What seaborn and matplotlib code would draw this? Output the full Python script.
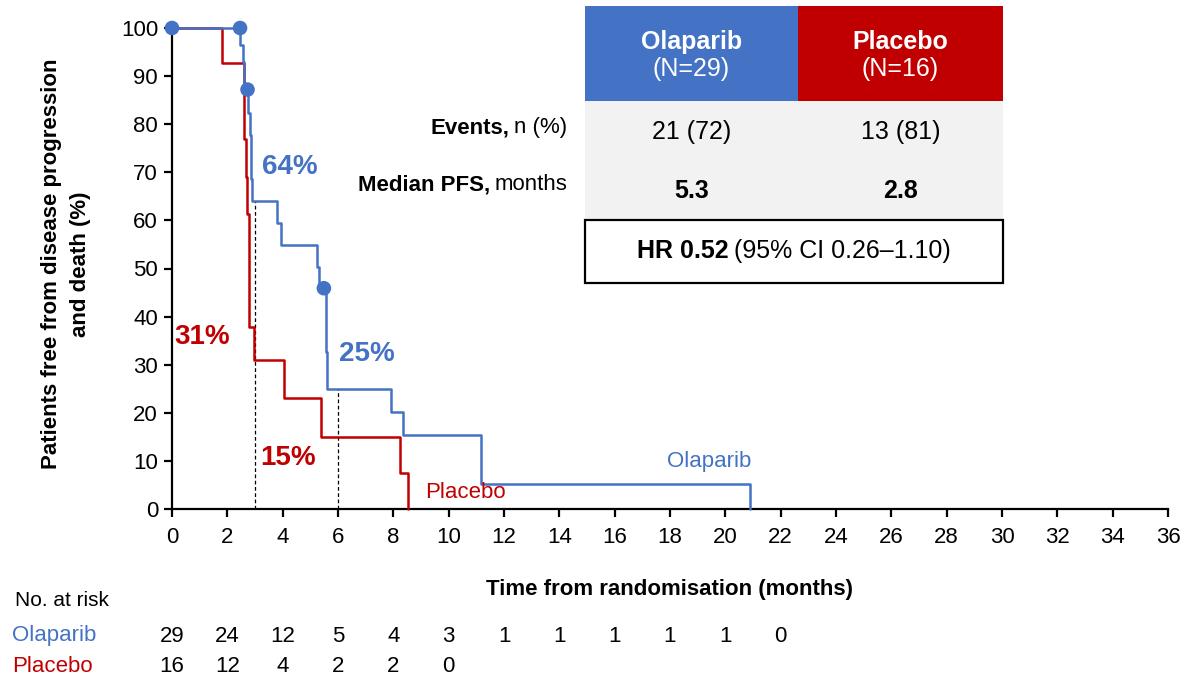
import matplotlib
matplotlib.use("Agg")
import matplotlib.pyplot as plt
import numpy as np
import pandas as pd
import seaborn as sns
from matplotlib import font_manager
from matplotlib.patches import Rectangle
from matplotlib.transforms import blended_transform_factory

# ---------------------------------------------------------------- data
arms = ["Olaparib", "Placebo"]

olaparib_time = [0, 2.46, 2.58, 2.62, 2.76, 2.82, 2.85, 2.90, 3.80, 3.93,
                 5.23, 5.33, 5.56, 5.62, 7.90, 8.36, 11.17, 20.89]
olaparib_pfs = [100, 96.5, 93.0, 87.2, 82.3, 77.7, 68.7, 64.0, 59.4, 54.9,
                50.4, 45.9, 32.7, 25.0, 20.2, 15.4, 5.2, 0]

placebo_time = [0, 1.82, 2.60, 2.66, 2.72, 2.78, 2.96, 4.05, 5.38, 8.24, 8.54]
placebo_pfs = [100, 92.7, 77.0, 69.0, 61.3, 37.9, 31.0, 23.0, 15.0, 7.5, 0]

olaparib_censor_time = [0, 2.46, 2.73, 5.49]
olaparib_censor_pfs = [100, 100, 87.2, 45.9]

landmark_months = [3, 6]
olaparib_landmark = [64, 25]
placebo_landmark = [31, 15]

x_ticks = list(range(0, 37, 2))
y_ticks = list(range(0, 101, 10))

risk_months = [0, 2, 4, 6, 8, 10, 12, 14, 16, 18, 20, 22]
olaparib_at_risk = [29, 24, 12, 5, 4, 3, 1, 1, 1, 1, 1, 0]
placebo_at_risk = [16, 12, 4, 2, 2, 0]

n_patients = ["(N=29)", "(N=16)"]
events = ["21 (72)", "13 (81)"]
median_pfs = ["5.3", "2.8"]
hr_bold = "HR 0.52"
hr_rest = "(95% CI 0.26\u20131.10)"

BLUE = "#4472C4"
RED = "#C00000"
GREY = "#F2F2F2"

# ---------------------------------------------------------------- style
sns.set_theme(style="ticks")
available = {f.name for f in font_manager.fontManager.ttflist}
FONT = "Liberation Sans Narrow" if "Liberation Sans Narrow" in available else "Liberation Sans"
plt.rcParams["font.family"] = [FONT, "DejaVu Sans"]
plt.rcParams["text.color"] = "black"

W, H = 1184, 680
fig = plt.figure(figsize=(W / 100, H / 100), dpi=100)
fig.patch.set_facecolor("white")


def fx(x):
    return x / W


def fy(y):
    return 1 - y / H


ax_l, ax_r, ax_t, ax_b = 172, 1168, 28, 509
ax = fig.add_axes([fx(ax_l), fy(ax_b), (ax_r - ax_l) / W, (ax_b - ax_t) / H])
ax.set_facecolor("white")

# ---------------------------------------------------------------- curves
df = pd.concat([
    pd.DataFrame({"time": olaparib_time, "pfs": olaparib_pfs, "arm": arms[0]}),
    pd.DataFrame({"time": placebo_time, "pfs": placebo_pfs, "arm": arms[1]}),
], ignore_index=True)

# landmark guides
for m, v in zip(landmark_months, olaparib_landmark):
    ax.plot([m, m], [0, v], color="black", lw=0.9, ls=(0, (3, 2)), zorder=1)

sns.lineplot(data=df, x="time", y="pfs", hue="arm", hue_order=arms[::-1],
             palette={arms[0]: BLUE, arms[1]: RED}, drawstyle="steps-post",
             estimator=None, sort=False, linewidth=1.8, legend=False,
             clip_on=False, ax=ax, zorder=3)

censor = pd.DataFrame({"time": olaparib_censor_time, "pfs": olaparib_censor_pfs})
sns.scatterplot(data=censor, x="time", y="pfs", color=BLUE, s=110,
                edgecolor="none", clip_on=False, ax=ax, zorder=4)

ax.set_xlim(0, 36)
ax.set_ylim(0, 100)
ax.set_xticks(x_ticks)
ax.set_yticks(y_ticks)
ax.set_xlabel("")
ax.set_ylabel("")
for side in ["top", "right"]:
    ax.spines[side].set_visible(False)
for side in ["left", "bottom"]:
    ax.spines[side].set_linewidth(1.6)
    ax.spines[side].set_color("black")
ax.tick_params(axis="both", direction="out", length=6, width=1.6,
               color="black", labelsize=16, labelcolor="black")
ax.tick_params(axis="y", pad=4)
ax.tick_params(axis="x", pad=7)

# landmark percentages
ax.text(3.25, olaparib_landmark[0] + 7, f"{olaparib_landmark[0]}%", color=BLUE,
        fontsize=20, fontweight="bold", ha="left", va="center")
ax.text(7.05, olaparib_landmark[1] + 7.2, f"{olaparib_landmark[1]}%", color=BLUE,
        fontsize=20, fontweight="bold", ha="center", va="center")
ax.text(1.1, placebo_landmark[0] + 4.8, f"{placebo_landmark[0]}%", color=RED,
        fontsize=20, fontweight="bold", ha="center", va="center")
ax.text(4.2, placebo_landmark[1] - 4.5, f"{placebo_landmark[1]}%", color=RED,
        fontsize=20, fontweight="bold", ha="center", va="center")

# curve labels
ax.text(19.4, 9.9, arms[0], color=BLUE, fontsize=16, ha="center", va="center")
ax.text(10.6, 3.4, arms[1], color=RED, fontsize=16, ha="center", va="center")

# axis titles
fig.text(fx(670), fy(590), "Time from randomisation (months)", fontsize=16,
         fontweight="bold", ha="center", va="center")
fig.text(fx(66), fy(264), "Patients free from disease progression\nand death (%)",
         fontsize=16, fontweight="bold", rotation=90, ha="center", va="center",
         multialignment="center", linespacing=1.55)

# ---------------------------------------------------------------- at-risk table
risk_tf = blended_transform_factory(ax.transData, fig.transFigure)
fig.text(fx(15), fy(600), "No. at risk", fontsize=15, ha="left", va="center")
fig.text(fx(12), fy(636), arms[0], fontsize=16, color=BLUE, ha="left", va="center")
fig.text(fx(12), fy(667), arms[1], fontsize=16, color=RED, ha="left", va="center")
for m, n in zip(risk_months, olaparib_at_risk):
    ax.text(m, fy(636), str(n), transform=risk_tf, fontsize=16,
            ha="center", va="center", clip_on=False)
for m, n in zip(risk_months, placebo_at_risk):
    ax.text(m, fy(667), str(n), transform=risk_tf, fontsize=16,
            ha="center", va="center", clip_on=False)

# ---------------------------------------------------------------- summary table
def rect(x0, y0, x1, y1, **kw):
    fig.add_artist(Rectangle((fx(x0), fy(y1)), (x1 - x0) / W, (y1 - y0) / H,
                             transform=fig.transFigure, **kw))


tx0, tmid, tx1 = 585, 798, 1003
rect(tx0, 6, tmid, 101, facecolor=BLUE, edgecolor="none", zorder=5)
rect(tmid, 6, tx1, 101, facecolor=RED, edgecolor="none", zorder=5)
rect(tx0, 101, tx1, 219, facecolor=GREY, edgecolor="none", zorder=5)
rect(tx0, 220, tx1, 283, facecolor="white", edgecolor="black", linewidth=1.6, zorder=5)

col_x = [(tx0 + tmid) / 2, (tmid + tx1) / 2]
for cx, arm, n, ev, md in zip(col_x, arms, n_patients, events, median_pfs):
    fig.text(fx(cx), fy(42), arm, color="white", fontsize=18, fontweight="bold",
             ha="center", va="center", zorder=6)
    fig.text(fx(cx), fy(69), n, color="white", fontsize=18,
             ha="center", va="center", zorder=6)
    fig.text(fx(cx), fy(132), ev, fontsize=18, ha="center", va="center", zorder=6)
    fig.text(fx(cx), fy(191), md, fontsize=18, fontweight="bold",
             ha="center", va="center", zorder=6)

renderer = fig.canvas.get_renderer()


def mixed_right(x_right, y, bold, rest, size):
    t_rest = fig.text(fx(x_right), fy(y), rest, fontsize=size, ha="right", va="center")
    w_rest = t_rest.get_window_extent(renderer).width
    fig.text(fx(x_right - w_rest - 4), fy(y), bold, fontsize=size,
             fontweight="bold", ha="right", va="center")


def mixed_center(x_center, y, bold, rest, size):
    t_b = fig.text(0, 0, bold, fontsize=size, fontweight="bold")
    t_r = fig.text(0, 0, rest, fontsize=size)
    wb = t_b.get_window_extent(renderer).width
    wr = t_r.get_window_extent(renderer).width
    gap = 5
    start = x_center - (wb + gap + wr) / 2
    t_b.set_position((fx(start), fy(y)))
    t_b.set_va("center")
    t_r.set_position((fx(start + wb + gap), fy(y)))
    t_r.set_va("center")
    t_b.set_zorder(6)
    t_r.set_zorder(6)


mixed_right(567, 128, "Events,", "n (%)", 16)
mixed_right(567, 185, "Median PFS,", "months", 16)
mixed_center((tx0 + tx1) / 2, 251, hr_bold, hr_rest, 18)

fig.savefig("out.png", dpi=100, facecolor="white")
